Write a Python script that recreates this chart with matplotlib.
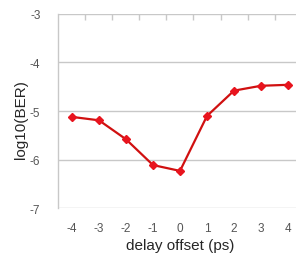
import matplotlib.pyplot as plt
import numpy as np

plt.rcParams['font.family'] = ['Liberation Sans', 'DejaVu Sans']
plt.rcParams['axes.unicode_minus'] = False

# data
delay = [-4, -3, -2, -1, 0, 1, 2, 3, 4]
log_ber = [-5.12, -5.19, -5.58, -6.11, -6.23, -5.10, -4.58, -4.48, -4.46]

fig = plt.figure(figsize=(2.96, 2.55), dpi=100)
ax = fig.add_axes([0.1976, 0.179, 0.821, 0.763])

# gridlines
for v in [-3, -4, -5, -6, -7]:
    ax.axhline(v, color='#c8c8c8', lw=1.0, zorder=0)

ax.plot(delay, log_ber, color='#d01010', lw=1.6, marker='D', markersize=4.5,
        markerfacecolor='#e8141e', markeredgecolor='#e8141e', zorder=3, clip_on=False)

ax.set_xlim(-4.5, 4.5)
ax.set_ylim(-7, -3)
ax.set_yticks([-7, -6, -5, -4, -3])
ax.set_xticks(delay)
ax.set_xticks(np.arange(-3.5, 4.0, 1.0), minor=True)

for s in ['right', 'bottom', 'top']:
    ax.spines[s].set_visible(False)
ax.spines['left'].set_color('#c8c8c8')
ax.spines['left'].set_linewidth(1.0)

ax.tick_params(axis='both', which='major', length=0, labelsize=8.5,
               labelcolor='#555555')
ax.tick_params(axis='y', pad=13)
ax.tick_params(axis='x', pad=10)
ax.tick_params(axis='x', which='minor', bottom=False, top=True,
               direction='in', length=4, color='#c8c8c8', width=1.0)

ax.set_xlabel('delay offset (ps)', fontsize=11, color='#262626', labelpad=3)
ax.set_ylabel('log10(BER)', fontsize=11, color='#262626')
ax.yaxis.set_label_coords(-0.126, 0.46)

fig.savefig('out.png', dpi=100)
